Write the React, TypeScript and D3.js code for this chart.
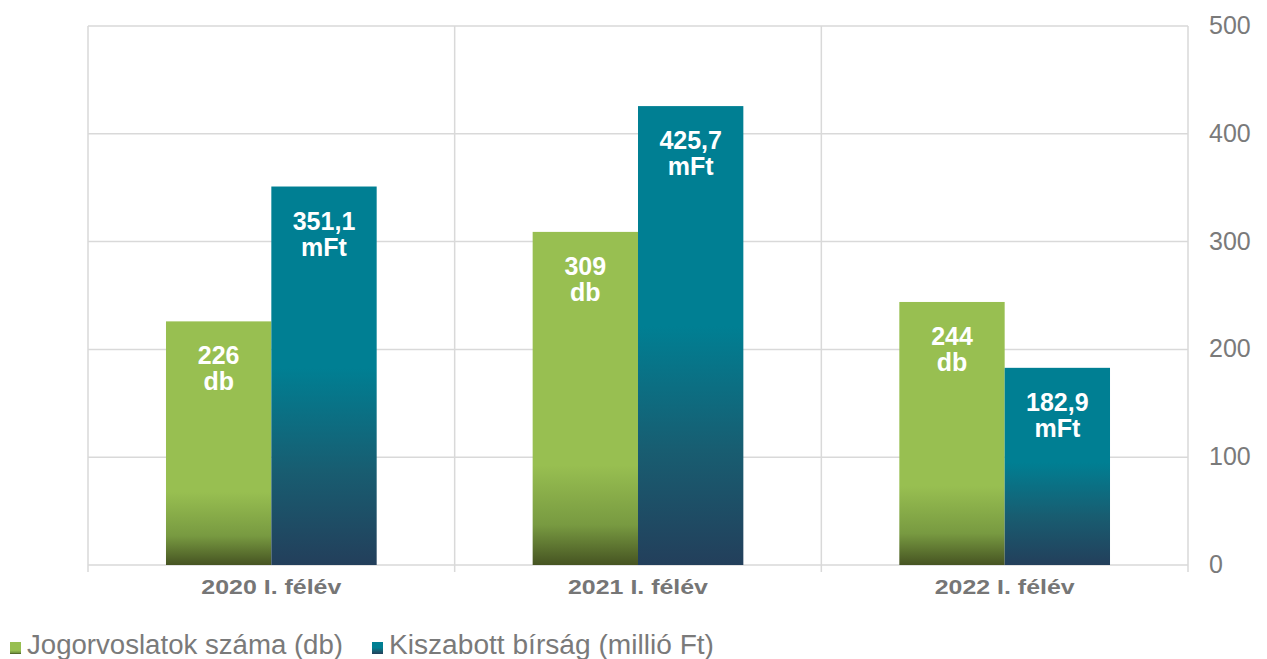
import React from "react";
import * as d3 from "d3";

const categories = ["2020 I. félév", "2021 I. félév", "2022 I. félév"];
const seriesNames = ["Jogorvoslatok száma (db)", "Kiszabott bírság (millió Ft)"];
const jogorvoslatok = [226, 309, 244];
const birsag = [351.1, 425.7, 182.9];
const jogLabels = ["226", "309", "244"];
const birsagLabels = ["351,1", "425,7", "182,9"];
const yTicks = [0, 100, 200, 300, 400, 500];

const W = 1267;
const H = 659;
const plot = { left: 88, right: 1188, top: 26, bottom: 565 };

export default function App() {
  const x = d3.scaleBand<string>().domain(categories).range([plot.left, plot.right]).padding(0);
  const bw = x.bandwidth();
  const inner = d3
    .scaleBand<number>()
    .domain([0, 1])
    .range([bw * 0.2127, bw * (1 - 0.2127)])
    .padding(0);
  const y = d3.scaleLinear().domain([0, 500]).range([plot.bottom, plot.top]);

  const series = [
    { values: jogorvoslatok, labels: jogLabels, unit: "db", fill: "url(#gGreen)" },
    { values: birsag, labels: birsagLabels, unit: "mFt", fill: "url(#gTeal)" },
  ];

  const grid = "#d9d9d9";
  const font = "'Liberation Sans', Arial, sans-serif";
  const legendX = [10, 372];
  const legendLen = [316, 325];

  return (
    <div style={{ position: "fixed", left: 0, top: 0 }}>
      <svg width={W} height={H} style={{ display: "block" }}>
        <defs>
          <linearGradient id="gGreen" x1="0" y1="0" x2="0" y2="1">
            <stop offset="0" stopColor="#98bf51" />
            <stop offset="0.7" stopColor="#98bf51" />
            <stop offset="0.88" stopColor="#789a41" />
            <stop offset="1" stopColor="#465422" />
          </linearGradient>
          <linearGradient id="gTeal" x1="0" y1="0" x2="0" y2="1">
            <stop offset="0" stopColor="#007f93" />
            <stop offset="0.48" stopColor="#007f93" />
            <stop offset="0.75" stopColor="#185d71" />
            <stop offset="1" stopColor="#233f5b" />
          </linearGradient>
        </defs>
        <rect width={W} height={H} fill="#fff" />
        {yTicks.map((t) => (
          <line key={"h" + t} x1={plot.left} x2={plot.right} y1={y(t)} y2={y(t)} stroke={grid} strokeWidth={1.5} />
        ))}
        {[...categories.map((c) => x(c)!), plot.right].map((v, i) => (
          <line key={"v" + i} x1={v} x2={v} y1={plot.top} y2={plot.bottom + 7} stroke={grid} strokeWidth={1.5} />
        ))}
        {yTicks.map((t) => (
          <text key={"yt" + t} x={1209} y={y(t) + 8} fontFamily={font} fontSize={25} fill="#7a7a7a">
            {t}
          </text>
        ))}
        {categories.map((c, ci) => (
          <g key={c} transform={`translate(${x(c)},0)`}>
            {series.map((s, si) => {
              const bx = inner(si)!;
              const top = y(s.values[ci]);
              const cx = bx + inner.bandwidth() / 2;
              return (
                <g key={si}>
                  <rect x={bx} y={top} width={inner.bandwidth()} height={y(0) - top} fill={s.fill} />
                  <text x={cx} y={top + 43} textAnchor="middle" fontFamily={font} fontWeight="bold" fontSize={25} fill="#fff">
                    {s.labels[ci]}
                  </text>
                  <text x={cx} y={top + 69} textAnchor="middle" fontFamily={font} fontWeight="bold" fontSize={25} fill="#fff">
                    {s.unit}
                  </text>
                </g>
              );
            })}
            <text
              x={bw / 2}
              y={594}
              textAnchor="middle"
              fontFamily={font}
              fontWeight="bold"
              fontSize={20}
              fill="#767676"
              textLength={140}
              lengthAdjust="spacingAndGlyphs"
            >
              {c}
            </text>
          </g>
        ))}
        {seriesNames.map((n, i) => {
          const lx = legendX[i];
          return (
            <g key={n}>
              <rect x={lx} y={642} width={11} height={12} fill={i === 0 ? "url(#gGreen)" : "url(#gTeal)"} />
              <text
                x={lx + 17}
                y={654}
                fontFamily={font}
                fontSize={27}
                fill="#7a7a7a"
                textLength={legendLen[i]}
                lengthAdjust="spacingAndGlyphs"
              >
                {n}
              </text>
            </g>
          );
        })}
      </svg>
    </div>
  );
}
